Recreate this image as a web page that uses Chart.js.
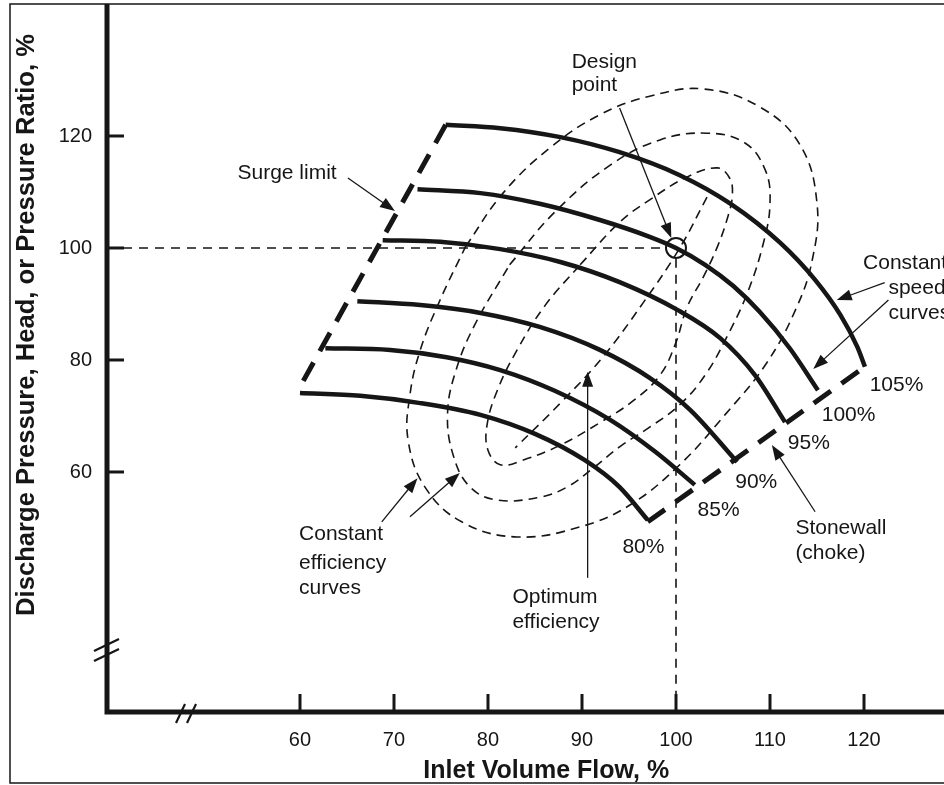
<!DOCTYPE html>
<html>
<head>
<meta charset="utf-8">
<title>Compressor performance map</title>
<script src="https://cdn.jsdelivr.net/npm/chart.js@4.4.1/dist/chart.umd.min.js"></script>
<style>
  html, body { margin: 0; padding: 0; background: #fff; }
  #wrap { width: 944px; height: 785px; position: relative; }
</style>
</head>
<body>
<div id="wrap"><canvas id="chart"></canvas></div>
<script>
// tick labels
const xTicks = [60, 70, 80, 90, 100, 110, 120];
const yTicks = [60, 80, 100, 120];

// constant speed curves (inlet flow %, discharge pressure %)
const speed105X = [75.5, 81.3, 87.7, 94.0, 100.4, 105.7, 111.1, 114.8, 117.5, 119.3, 120.1];
const speed105Y = [122.0, 121.4, 119.8, 117.1, 113.0, 108.0, 100.9, 94.3, 88.0, 82.3, 78.8];
const speed100X = [72.5, 79.2, 85.5, 91.9, 97.2, 100, 103.1, 106.1, 108.9, 112.1, 115.1];
const speed100Y = [110.5, 109.8, 107.9, 105.0, 102.0, 100, 97.0, 93.2, 88.6, 82.1, 74.6];
const speed95X = [68.8, 74.9, 81.3, 87.7, 94.0, 100.2, 104.7, 108.4, 111.6];
const speed95Y = [101.4, 101.1, 99.8, 97.5, 93.9, 88.9, 83.9, 77.3, 68.9];
const speed90X = [66.1, 72.8, 79.2, 85.5, 91.9, 97.2, 101.5, 106.5];
const speed90Y = [90.5, 89.8, 88.4, 85.9, 81.8, 76.8, 71.1, 61.8];
const speed85X = [62.7, 69.6, 75.6, 81.3, 87.1, 93.0, 97.8, 102.0];
const speed85Y = [82.1, 81.8, 80.5, 78.2, 74.5, 69.3, 63.6, 57.7];
const speed80X = [60.0, 66.4, 72.8, 79.2, 85.0, 90.3, 94.0, 97.0];
const speed80Y = [74.1, 73.6, 72.3, 70.2, 66.8, 62.1, 57.3, 51.4];
const speedNames = ['105%', '100%', '95%', '90%', '85%', '80%'];

// surge and stonewall limits
const surgeX = [75.5, 59.8];
const surgeY = [122.0, 74.6];
const chokeX = [97.0, 120.1];
const chokeY = [51.1, 78.8];

// constant efficiency curves (closed loops, outer to inner)
const effOuterX = [77.6, 81.6, 86.6, 91.9, 97.2, 102.9, 108.9, 113.2, 115.0, 114.5, 112.7, 109.5, 105.2, 100.4, 95.1, 89.8, 83.1, 77.2, 73.3, 71.5, 71.7, 72.8, 74.9, 77.6];
const effOuterY = [100.2, 109.8, 117.9, 123.8, 127.1, 128.4, 125.2, 118.4, 108.0, 97.9, 88.9, 79.1, 70.2, 61.3, 54.1, 50.2, 48.4, 51.1, 57.3, 65.7, 73.8, 81.8, 90.7, 100.2];
const effMidX = [82.3, 87.1, 93.0, 98.3, 103.3, 107.3, 109.5, 110.0, 109.3, 107.6, 105.4, 103.1, 100.4, 97.2, 94.0, 91.2, 88.4, 85.5, 81.0, 78.1, 76.3, 75.7, 76.6, 78.6, 82.3];
const effMidY = [97.0, 106.4, 114.8, 119.3, 120.5, 118.8, 113.9, 108.0, 100.9, 92.0, 84.1, 77.3, 72.0, 68.0, 64.5, 60.7, 57.3, 55.5, 55.0, 57.3, 63.0, 70.5, 78.2, 86.3, 97.0];
const effInnerX = [89.8, 94.0, 97.2, 101.2, 104.4, 105.7, 106.0, 105.5, 104.4, 102.9, 101.2, 99.9, 98.3, 95.6, 91.9, 87.7, 83.7, 81.3, 80.0, 79.9, 81.0, 83.1, 86.1, 89.8];
const effInnerY = [97.0, 104.6, 108.6, 112.7, 114.3, 112.5, 109.5, 105.5, 100.2, 94.8, 89.5, 82.7, 77.3, 72.9, 68.8, 64.8, 62.1, 61.3, 63.9, 68.4, 74.6, 81.8, 89.8, 97.0];
// optimum efficiency line
const optX = [103.3, 100.4, 96.5, 92.2, 87.7, 82.9];
const optY = [109.1, 100.0, 90.2, 80.5, 72.3, 64.3];

// design point
const designX = [100];
const designY = [100];

// axis range
const xMin = 39.47, xMax = 128.51;
const yMin = 17.14, yMax = 143.57;

// annotation anchors (data units)
const speedLabelX = [120.6, 115.5, 111.9, 106.3, 102.3, 94.3];
const speedLabelY = [75.5, 70.2, 65.2, 58.2, 53.2, 46.6];
const notes = [
    ['Design', 88.9, 133.2, 'left'],
    ['point', 88.9, 129.1, 'left'],
    ['Surge limit', 63.9, 113.4, 'right'],
    ['Constant', 119.9, 97.3, 'left'],
    ['speed', 122.6, 92.9, 'left'],
    ['curves', 122.6, 88.4, 'left'],
    ['Stonewall', 112.7, 50.0, 'left'],
    ['(choke)', 112.7, 45.5, 'left'],
    ['Constant', 59.9, 48.9, 'left'],
    ['efficiency', 59.9, 43.8, 'left'],
    ['curves', 59.9, 39.3, 'left'],
    ['Optimum', 82.6, 37.7, 'left'],
    ['efficiency', 82.6, 33.2, 'left'],
];
const arrows = [
    [65.1, 112.5, 70.1, 106.6],   // surge limit
    [94.0, 125.0, 99.5, 101.8],   // design point
    [122.2, 93.8, 117.1, 90.7],   // speed curves
    [122.6, 90.7, 114.6, 78.4],
    [114.8, 52.9, 110.2, 64.8],   // stonewall
    [68.7, 51.1, 72.5, 58.9],     // efficiency curves
    [71.7, 52.0, 77.0, 59.8],
    [90.6, 41.1, 90.6, 77.9],     // optimum efficiency
];

const ink = '#161616';
const font = "'Liberation Sans', Arial, Helvetica, sans-serif";

const pts = (xs, ys) => xs.map((v, i) => ({x: v, y: ys[i]}));

function speedSet(xs, ys) {
    return {data: pts(xs, ys), showLine: true, borderColor: ink, borderWidth: 4.5,
        pointRadius: 0, cubicInterpolationMode: 'monotone', fill: false, borderCapStyle: 'butt'};
}
function effSet(xs, ys) {
    return {data: pts(xs, ys), showLine: true, borderColor: ink, borderWidth: 1.6,
        borderDash: [9, 6], pointRadius: 0, tension: 0.4, fill: false};
}
function limitSet(xs, ys) {
    return {data: pts(xs, ys), showLine: true, borderColor: ink, borderWidth: 5,
        borderDash: [21, 13], pointRadius: 0, tension: 0, fill: false};
}

function arrow(ctx, x1, y1, x2, y2) {
    const a = Math.atan2(y2 - y1, x2 - x1);
    const L = 15, W = 5.5;
    ctx.beginPath();
    ctx.moveTo(x1, y1);
    ctx.lineTo(x2 - L * 0.7 * Math.cos(a), y2 - L * 0.7 * Math.sin(a));
    ctx.stroke();
    ctx.beginPath();
    ctx.moveTo(x2, y2);
    ctx.lineTo(x2 - L * Math.cos(a) + W * Math.sin(a), y2 - L * Math.sin(a) - W * Math.cos(a));
    ctx.lineTo(x2 - L * Math.cos(a) - W * Math.sin(a), y2 - L * Math.sin(a) + W * Math.cos(a));
    ctx.closePath();
    ctx.fill();
}

const sketch = {
    id: 'sketch',
    afterDraw(chart) {
        const {ctx, chartArea: a} = chart;
        const sx = chart.scales.x, sy = chart.scales.y;
        const px = v => sx.getPixelForValue(v), py = v => sy.getPixelForValue(v);
        ctx.save();
        ctx.strokeStyle = ink;
        ctx.fillStyle = ink;

        // axes
        ctx.lineWidth = 5;
        ctx.lineJoin = 'miter';
        ctx.beginPath();
        ctx.moveTo(a.left, a.top);
        ctx.lineTo(a.left, a.bottom);
        ctx.lineTo(a.right + 5, a.bottom);
        ctx.stroke();

        // inward tick marks
        ctx.lineWidth = 3;
        xTicks.forEach(v => {
            ctx.beginPath();
            ctx.moveTo(px(v), a.bottom);
            ctx.lineTo(px(v), a.bottom - 18);
            ctx.stroke();
        });
        yTicks.forEach(v => {
            ctx.beginPath();
            ctx.moveTo(a.left, py(v));
            ctx.lineTo(a.left + 17, py(v));
            ctx.stroke();
        });

        // axis breaks
        ctx.lineWidth = 2.2;
        const bx = px(48.3), by = a.bottom;
        [-10, 1].forEach(dx => {
            ctx.beginPath();
            ctx.moveTo(bx + dx - 4, by + 11);
            ctx.lineTo(bx + dx + 5, by - 8);
            ctx.stroke();
        });
        const cx = a.left, cy = py(28.2);
        [-5, 5].forEach(dy => {
            ctx.beginPath();
            ctx.moveTo(cx - 13, cy + dy + 6);
            ctx.lineTo(cx + 12, cy + dy - 6);
            ctx.stroke();
        });

        // arrows
        ctx.lineWidth = 1.3;
        arrows.forEach(([x1, y1, x2, y2]) => arrow(ctx, px(x1), py(y1), px(x2), py(y2)));

        // labels
        ctx.font = '21px ' + font;
        ctx.textBaseline = 'middle';
        notes.forEach(([t, x, y, al]) => {
            ctx.textAlign = al;
            ctx.fillText(t, px(x), py(y));
        });
        ctx.textAlign = 'left';
        speedNames.forEach((t, i) => ctx.fillText(t, px(speedLabelX[i]), py(speedLabelY[i])));

        // axis titles
        ctx.textAlign = 'center';
        ctx.font = 'bold 25px ' + font;
        ctx.fillText('Inlet Volume Flow, %', px(86.2), a.bottom + 59);
        ctx.font = 'bold 25.6px ' + font;
        ctx.translate(27, py(86.25));
        ctx.rotate(-Math.PI / 2);
        ctx.fillText('Discharge Pressure, Head, or Pressure Ratio, %', 0, 0);
        ctx.restore();

        // figure frame
        ctx.save();
        ctx.strokeStyle = ink;
        ctx.lineWidth = 1.5;
        ctx.strokeRect(10, 4, 1000, 779);
        ctx.restore();
    }
};

const ctx = document.querySelector('#chart').getContext('2d');
const chart = new Chart(ctx, {
    type: 'scatter',
    data: {
        datasets: [
            speedSet(speed105X, speed105Y),
            speedSet(speed100X, speed100Y),
            speedSet(speed95X, speed95Y),
            speedSet(speed90X, speed90Y),
            speedSet(speed85X, speed85Y),
            speedSet(speed80X, speed80Y),
            limitSet(surgeX, surgeY),
            limitSet(chokeX, chokeY),
            effSet(effOuterX, effOuterY),
            effSet(effMidX, effMidY),
            effSet(effInnerX, effInnerY),
            effSet(optX, optY),
            {   // reference lines through the design point
                data: [{x: xMin, y: designY[0]}, {x: designX[0] - 1.1, y: designY[0]}],
                showLine: true, borderColor: ink, borderWidth: 1.6, borderDash: [9, 7], pointRadius: 0
            },
            {
                data: [{x: designX[0], y: designY[0] - 1.9}, {x: designX[0], y: yMin}],
                showLine: true, borderColor: ink, borderWidth: 1.6, borderDash: [9, 7], pointRadius: 0
            },
            {
                data: pts(designX, designY), showLine: false, pointRadius: 10, pointHoverRadius: 10,
                pointBorderWidth: 2, pointBorderColor: ink, pointBackgroundColor: 'rgba(0,0,0,0)'
            },
        ]
    },
    options: {
        responsive: true,
        maintainAspectRatio: false,
        animation: false,
        events: [],
        layout: {autoPadding: false, padding: {top: 4, left: 0, right: 0, bottom: 0}},
        plugins: {
            legend: {display: false},
            tooltip: {enabled: false},
        },
        scales: {
            x: {
                type: 'linear', min: xMin, max: xMax,
                grid: {display: false, drawTicks: false},
                border: {display: false},
                afterBuildTicks: s => { s.ticks = xTicks.map(v => ({value: v})); },
                afterFit: s => { s.height = 73; s.paddingLeft = 0; s.paddingRight = 0; },
                ticks: {padding: 16, color: ink, maxRotation: 0, autoSkip: false,
                    font: {family: font, size: 20}}
            },
            y: {
                type: 'linear', min: yMin, max: yMax,
                grid: {display: false, drawTicks: false},
                border: {display: false},
                afterBuildTicks: s => { s.ticks = yTicks.map(v => ({value: v})); },
                afterFit: s => { s.width = 107; s.paddingTop = 0; s.paddingBottom = 0; },
                ticks: {padding: 15, color: ink, autoSkip: false,
                    font: {family: font, size: 20}}
            }
        }
    },
    plugins: [sketch]
});
</script>
</body>
</html>
